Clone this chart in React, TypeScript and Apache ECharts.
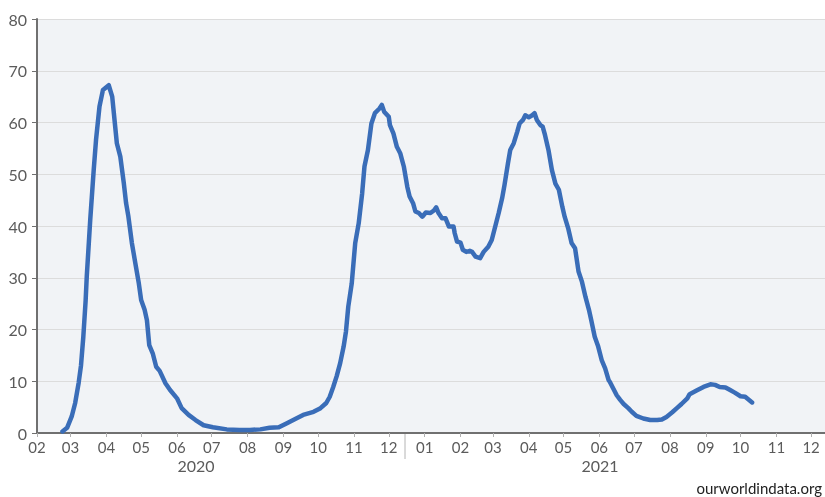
import React, { useEffect, useRef } from "react";
import * as echarts from "echarts";

const startDate = "2020-02-01";
const endDate = "2021-12-13";

// days since startDate
const dayOffsets = [
  22, 26, 30, 33, 36, 38, 40, 42, 43, 46, 49, 51, 54, 57, 62, 65, 67, 69, 72, 75, 77,
  79, 82, 85, 88, 90, 93, 95, 97, 100, 103, 106, 111, 115, 121, 125, 131, 137, 144, 152, 164,
  175, 184, 193, 201, 209, 216, 224, 230, 239, 245, 250, 253, 256, 259, 262, 265, 267, 269, 272, 275,
  278, 281, 283, 286, 289, 292, 296, 298, 300, 304, 305, 308, 311, 314, 317, 320, 322, 325, 327, 330,
  333, 336, 340, 343, 345, 347, 350, 353, 356, 360, 361, 363, 366, 368, 371, 374, 376, 379, 383, 386,
  390, 393, 396, 399, 402, 404, 407, 409, 412, 415, 417, 420, 422, 425, 428, 430, 432, 435, 437, 439,
  442, 445, 448, 451, 454, 456, 459, 462, 465, 468, 471, 474, 477, 479, 482, 485, 488, 491, 494, 495,
  498, 501, 504, 507, 511, 514, 518, 524, 530, 536, 540, 544, 549, 553, 557, 562, 564, 570, 576, 582,
  586, 590, 595, 599, 603, 608, 612, 618,
];

const values = [
  0.3, 1.0, 3.2, 5.8, 9.7, 13.0, 18.5, 25.5, 30.2, 41.2, 50.8, 56.6, 63.1, 66.3, 67.2, 65.0, 60.5, 56.0, 53.4, 48.3, 44.4,
  41.8, 36.7, 32.8, 28.9, 25.7, 23.8, 21.8, 17.0, 15.4, 12.8, 12.0, 9.6, 8.3, 6.7, 4.8, 3.5, 2.5, 1.5, 1.1, 0.7,
  0.6, 0.6, 0.7, 1.0, 1.1, 1.9, 2.8, 3.5, 4.1, 4.8, 5.8, 7.0, 8.9, 11.0, 13.5, 16.7, 19.6, 24.4, 28.9, 36.7,
  40.5, 46.3, 51.5, 54.7, 59.8, 61.8, 62.7, 63.4, 62.1, 61.1, 59.5, 57.9, 55.3, 54.0, 51.5, 47.6, 45.7, 44.4, 42.8, 42.5,
  41.8, 42.6, 42.5, 43.0, 43.6, 42.5, 41.5, 41.5, 39.9, 39.9, 38.6, 37.0, 36.8, 35.4, 35.0, 35.2, 35.0, 34.1, 33.8, 35.0,
  36.0, 37.3, 39.9, 42.5, 45.4, 47.9, 52.1, 54.7, 56.0, 58.2, 59.8, 60.5, 61.4, 61.0, 61.4, 61.8, 60.5, 59.5, 59.2, 57.6,
  54.7, 50.8, 48.2, 47.0, 43.7, 41.8, 39.6, 36.7, 35.7, 31.2, 29.2, 26.3, 23.8, 21.8, 18.6, 16.7, 14.1, 12.5, 10.2, 9.9,
  8.6, 7.3, 6.4, 5.6, 4.8, 4.1, 3.3, 2.8, 2.5, 2.5, 2.6, 3.1, 4.0, 4.8, 5.6, 6.7, 7.5, 8.2, 8.9, 9.4,
  9.3, 8.9, 8.8, 8.3, 7.8, 7.1, 7.0, 5.9,
];

const monthTicks = [
  "2020-02-01", "2020-03-01", "2020-04-01", "2020-05-01", "2020-06-01", "2020-07-01",
  "2020-08-01", "2020-09-01", "2020-10-01", "2020-11-01", "2020-12-01",
  "2021-01-01", "2021-02-01", "2021-03-01", "2021-04-01", "2021-05-01", "2021-06-01",
  "2021-07-01", "2021-08-01", "2021-09-01", "2021-10-01", "2021-11-01", "2021-12-01",
];

const yearLabels = ["2020", "2021"];
const sourceText = "ourworldindata.org";

const DAY = 86400000;
const toTs = (s: string) => {
  const [y, m, d] = s.split("-").map(Number);
  return Date.UTC(y, m - 1, d);
};

export default function App() {
  const ref = useRef<HTMLDivElement>(null);

  useEffect(() => {
    if (!ref.current) return;
    const chart = echarts.init(ref.current, null, { renderer: "svg" });
    const base = toTs(startDate);
    const seriesData = dayOffsets.map((d, i) => [base + d * DAY, values[i]]);
    const tickValues = monthTicks.map(toTs);
    const font = "Lato, 'Noto Sans', sans-serif";

    chart.setOption({
      animation: false,
      grid: {
        left: 37,
        right: 0,
        top: 19,
        bottom: 64,
        show: true,
        backgroundColor: "#f1f3f6",
        borderWidth: 0,
      },
      xAxis: {
        type: "value",
        min: base,
        max: toTs(endDate),
        axisLine: { show: true, lineStyle: { color: "#707070", width: 2 } },
        axisTick: {
          show: true,
          length: 4,
          customValues: tickValues,
          lineStyle: { color: "#b0b0b0", width: 1 },
        },
        axisLabel: {
          customValues: tickValues,
          color: "#5b5b5b",
          fontSize: 15,
          fontFamily: font,
          margin: 6,
          formatter: (v: number) => {
            const m = new Date(v).getUTCMonth() + 1;
            return (m < 10 ? "0" : "") + m;
          },
        },
        splitLine: { show: false },
      },
      yAxis: {
        type: "value",
        min: 0,
        max: 80,
        interval: 10,
        axisLine: { show: true, lineStyle: { color: "#707070", width: 2 } },
        axisTick: { show: true, length: 5, lineStyle: { color: "#707070" } },
        axisLabel: {
          color: "#5b5b5b",
          fontSize: 16,
          fontFamily: font,
          margin: 10,
        },
        splitLine: { show: true, lineStyle: { color: "#dcdcdc", width: 1 } },
      },
      series: [
        {
          type: "line",
          data: seriesData,
          showSymbol: false,
          smooth: false,
          lineStyle: { color: "#3a6db8", width: 4.5, join: "round", cap: "round" },
          itemStyle: { color: "#3a6db8" },
        },
      ],
      graphic: [
        {
          type: "line",
          shape: { x1: 405, y1: 434, x2: 405, y2: 459 },
          style: { stroke: "#b4b4b4", lineWidth: 1 },
        },
        {
          type: "text",
          x: 196,
          y: 465,
          style: {
            text: yearLabels[0],
            fill: "#5b5b5b",
            font: `16px ${font}`,
            align: "center",
            verticalAlign: "middle",
          },
        },
        {
          type: "text",
          x: 600,
          y: 465,
          style: {
            text: yearLabels[1],
            fill: "#5b5b5b",
            font: `16px ${font}`,
            align: "center",
            verticalAlign: "middle",
          },
        },
        {
          type: "text",
          x: 822,
          y: 488,
          style: {
            text: sourceText,
            fill: "#222222",
            font: `15px ${font}`,
            align: "right",
            verticalAlign: "middle",
          },
        },
      ],
    });

    return () => chart.dispose();
  }, []);

  return (
    <div
      ref={ref}
      style={{ position: "fixed", left: 0, top: 0, width: 825, height: 497 }}
    />
  );
}
